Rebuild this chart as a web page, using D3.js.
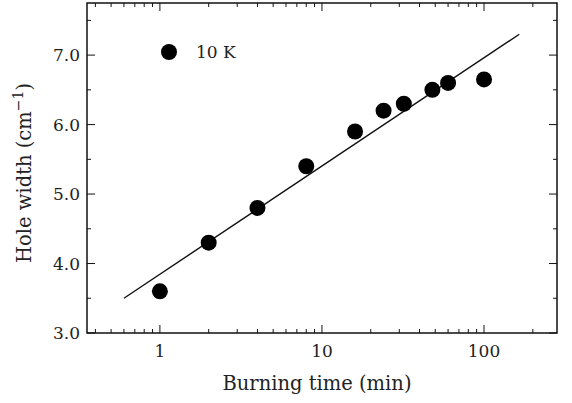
<!DOCTYPE html>
<html><head><meta charset="utf-8">
<script src="https://cdn.jsdelivr.net/npm/d3@7"></script>
<style>body{margin:0;background:#fff}svg{display:block}text{font-family:"DejaVu Serif","Liberation Serif",serif;fill:#222}</style>
</head><body>
<script>
const times = [1, 2, 4, 8, 16, 24, 32, 48, 60, 100];
const widths = [3.6, 4.3, 4.8, 5.4, 5.9, 6.2, 6.3, 6.5, 6.6, 6.65];
const fitTimes = [0.6, 165];
const fitWidths = [3.5, 7.3];
const xTickLabels = [1, 10, 100];
const yTickLabels = [3.0, 4.0, 5.0, 6.0, 7.0];
const legendLabel = "10 K";

const W = 572, H = 403;
const m = {l: 87, r: 15, t: 3, b: 70};
const svg = d3.select("body").append("svg").attr("width", W).attr("height", H);
const x = d3.scaleLog().domain([0.355, 282]).range([m.l, W - m.r]);
const y = d3.scaleLinear().domain([3.0, 7.75]).range([H - m.b, m.t]);

const minorX = [];
for (let d = 0.1; d <= 100; d *= 10) for (let k = 1; k <= 9; k++) { const v = +(d*k).toPrecision(3); if (v >= 0.355 && v <= 282) minorX.push(v); }
const minorY = d3.range(3.0, 7.76, 0.5);

const g = svg.append("g");
g.append("rect").attr("x", m.l).attr("y", m.t).attr("width", W - m.r - m.l).attr("height", H - m.b - m.t)
 .attr("fill", "none").attr("stroke", "#111").attr("stroke-width", 1.5);

[[H - m.b, -1], [m.t, 1]].forEach(([y0, dir]) => {
  g.selectAll(null).data(minorX).enter().append("line")
    .attr("x1", d => x(d)).attr("x2", d => x(d))
    .attr("y1", y0).attr("y2", d => y0 + dir * (xTickLabels.includes(d) ? 8 : 4))
    .attr("stroke", "#111").attr("stroke-width", 1);
});
[[m.l, 1], [W - m.r, -1]].forEach(([x0, dir]) => {
  g.selectAll(null).data(minorY).enter().append("line")
    .attr("y1", d => y(d)).attr("y2", d => y(d))
    .attr("x1", x0).attr("x2", d => x0 + dir * (Math.abs(d - Math.round(d)) < 1e-6 ? 8 : 4))
    .attr("stroke", "#111").attr("stroke-width", 1);
});

g.selectAll(null).data(xTickLabels).enter().append("text")
  .attr("x", d => x(d)).attr("y", 357).attr("text-anchor", "middle")
  .attr("font-size", 17).text(d => d);
g.selectAll(null).data(yTickLabels).enter().append("text")
  .attr("x", m.l - 7).attr("y", d => y(d) + 6).attr("text-anchor", "end")
  .attr("font-size", 17).text(d => d.toFixed(1));

svg.append("text").attr("x", 317).attr("y", 390).attr("text-anchor", "middle")
  .attr("font-size", 19.5).text("Burning time (min)");
const yt = svg.append("text").attr("transform", `translate(31,173) rotate(-90)`)
  .attr("text-anchor", "middle").attr("font-size", 19.5);
yt.append("tspan").text("Hole width (cm");
yt.append("tspan").attr("dy", -8).attr("font-size", 14).text("−1");
yt.append("tspan").attr("dy", 8).text(")");

svg.append("path").datum(fitTimes.map((t, i) => [t, fitWidths[i]]))
  .attr("d", d3.line().x(d => x(d[0])).y(d => y(d[1])))
  .attr("stroke", "#111").attr("stroke-width", 1.4).attr("fill", "none");

svg.selectAll(null).data(times.map((t, i) => [t, widths[i]])).enter().append("circle")
  .attr("cx", d => x(d[0])).attr("cy", d => y(d[1])).attr("r", 8).attr("fill", "#000");

svg.append("circle").attr("cx", 169).attr("cy", 52).attr("r", 8).attr("fill", "#000");
svg.append("text").attr("x", 196).attr("y", 58).attr("font-size", 17).text(legendLabel);
</script>
</body></html>
